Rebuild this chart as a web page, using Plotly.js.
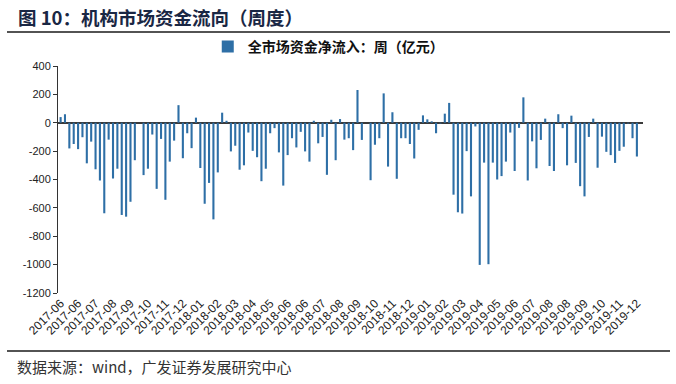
<!DOCTYPE html>
<html>
<head>
<meta charset="utf-8">
<script src="https://cdn.plot.ly/plotly-3.0.1.min.js"></script>
<style>
html, body { margin: 0; padding: 0; background: #ffffff; }
#chart { width: 676px; height: 384px; }
</style>
</head>
<body>
<div id="chart"></div>
<script>
// Weekly net inflow of the whole market (亿元), June 2017 - Dec 2019
const seriesName = "全市场资金净流入：周（亿元）";
const weeklyFlow = [
  40, 60, -181, -150, -186, -102, -286, -133, -328, -407,
  -638, -119, -393, -324, -650, -662, -557, -264, 0, -369,
  -324, -83, -466, -114, -543, -274, -126, 124, -250, -74,
  -179, 36, -319, -571, -424, -681, -350, 71, 14, -202,
  -162, -331, -300, -69, -198, -243, -412, -324, -74, -38,
  -209, -443, -228, -109, -174, -64, -202, -274, 14, -145,
  -100, -367, 21, -264, 26, -119, -109, -193, 231, -121,
  0, -405, -155, -109, 207, -309, 74, -395, -109, -109,
  -150, -252, -50, 52, 24, 10, -74, -5, 64, 140,
  -507, -631, -640, -200, -519, -26, -1002, -281, -997, -281,
  -400, -376, -274, -69, -340, -36, 179, -407, -131, -321,
  -121, 29, -305, -340, 60, -38, -300, 50, -283, -447,
  -519, -100, 29, -317, -98, -205, -228, -283, -198, -169,
  -5, -109, -238
];
// one month label every 4 weeks
const monthLabels = [
  "2017-06", "2017-06", "2017-07", "2017-08", "2017-09", "2017-10", "2017-11", "2017-12",
  "2018-01", "2018-02", "2018-03", "2018-04", "2018-05", "2018-06", "2018-06", "2018-07",
  "2018-08", "2018-09", "2018-10", "2018-11", "2018-12",
  "2019-01", "2019-02", "2019-03", "2019-04", "2019-05", "2019-06", "2019-07",
  "2019-08", "2019-08", "2019-09", "2019-10", "2019-11", "2019-12"
];
const yTicks = [400, 200, 0, -200, -400, -600, -800, -1000, -1200];
const titleText = "图 10：机构市场资金流向（周度）";
const sourceText = "数据来源：wind，广发证券发展研究中心";

const weekIndex = weeklyFlow.map((_, i) => i);
const labelStep = 4;
const tickPositions = monthLabels.map((_, k) => k * labelStep);

const cjk = '"Noto Sans CJK SC", "Noto Sans", sans-serif';
const latin = '"Liberation Sans", Arial, sans-serif';

const trace = {
  type: "bar",
  name: seriesName,
  x: weekIndex,
  y: weeklyFlow,
  marker: { color: "#2E6FA6", line: { width: 0 } },
  hoverinfo: "y"
};

const layout = {
  width: 676,
  height: 384,
  margin: { l: 58, r: 33, t: 66, b: 91, pad: 0 },
  paper_bgcolor: "#ffffff",
  plot_bgcolor: "#ffffff",
  bargap: 0.52,
  showlegend: true,
  legend: {
    orientation: "h",
    x: 0.256, xanchor: "left",
    y: 1.084, yanchor: "middle",
    font: { family: cjk, size: 14, color: "#111111", weight: 700 },
    itemwidth: 30,
    bgcolor: "rgba(0,0,0,0)"
  },
  xaxis: {
    range: [-0.6, 133.4],
    tickmode: "array",
    tickvals: tickPositions,
    ticktext: monthLabels,
    tickangle: -45,
    tickfont: { family: latin, size: 12, color: "#222222" },
    showgrid: false,
    showline: false,
    zeroline: false,
    ticks: "",
    fixedrange: true
  },
  yaxis: {
    range: [-1200, 400],
    tickmode: "array",
    tickvals: yTicks,
    ticktext: yTicks.map(String),
    tickfont: { family: latin, size: 11, color: "#222222" },
    showgrid: false,
    showline: true,
    linecolor: "#333333",
    linewidth: 1,
    ticks: "outside",
    ticklen: 4,
    tickcolor: "#333333",
    zeroline: true,
    zerolinecolor: "#3a3a3a",
    zerolinewidth: 2,
    fixedrange: true
  },
  shapes: [
    { type: "line", xref: "paper", yref: "paper", x0: -0.0872, x1: 1.0462, y0: 1.1498, y1: 1.1498,
      line: { color: "#1a1a1a", width: 1.3 } },
    { type: "line", xref: "paper", yref: "paper", x0: -0.0872, x1: 1.0462, y0: -0.2555, y1: -0.2555,
      line: { color: "#1a1a1a", width: 1.3 } }
  ],
  annotations: [
    { xref: "paper", yref: "paper", x: -0.071, y: 1.216, xanchor: "left", yanchor: "middle",
      text: titleText, showarrow: false,
      font: { family: cjk, size: 18.5, color: "#1a2744", weight: 700 } },
    { xref: "paper", yref: "paper", x: -0.0735, y: -0.322, xanchor: "left", yanchor: "middle",
      text: sourceText, showarrow: false,
      font: { family: cjk, size: 15, color: "#333333" } }
  ]
};

Plotly.newPlot("chart", [trace], layout, { displayModeBar: false, staticPlot: true });
</script>
</body>
</html>
